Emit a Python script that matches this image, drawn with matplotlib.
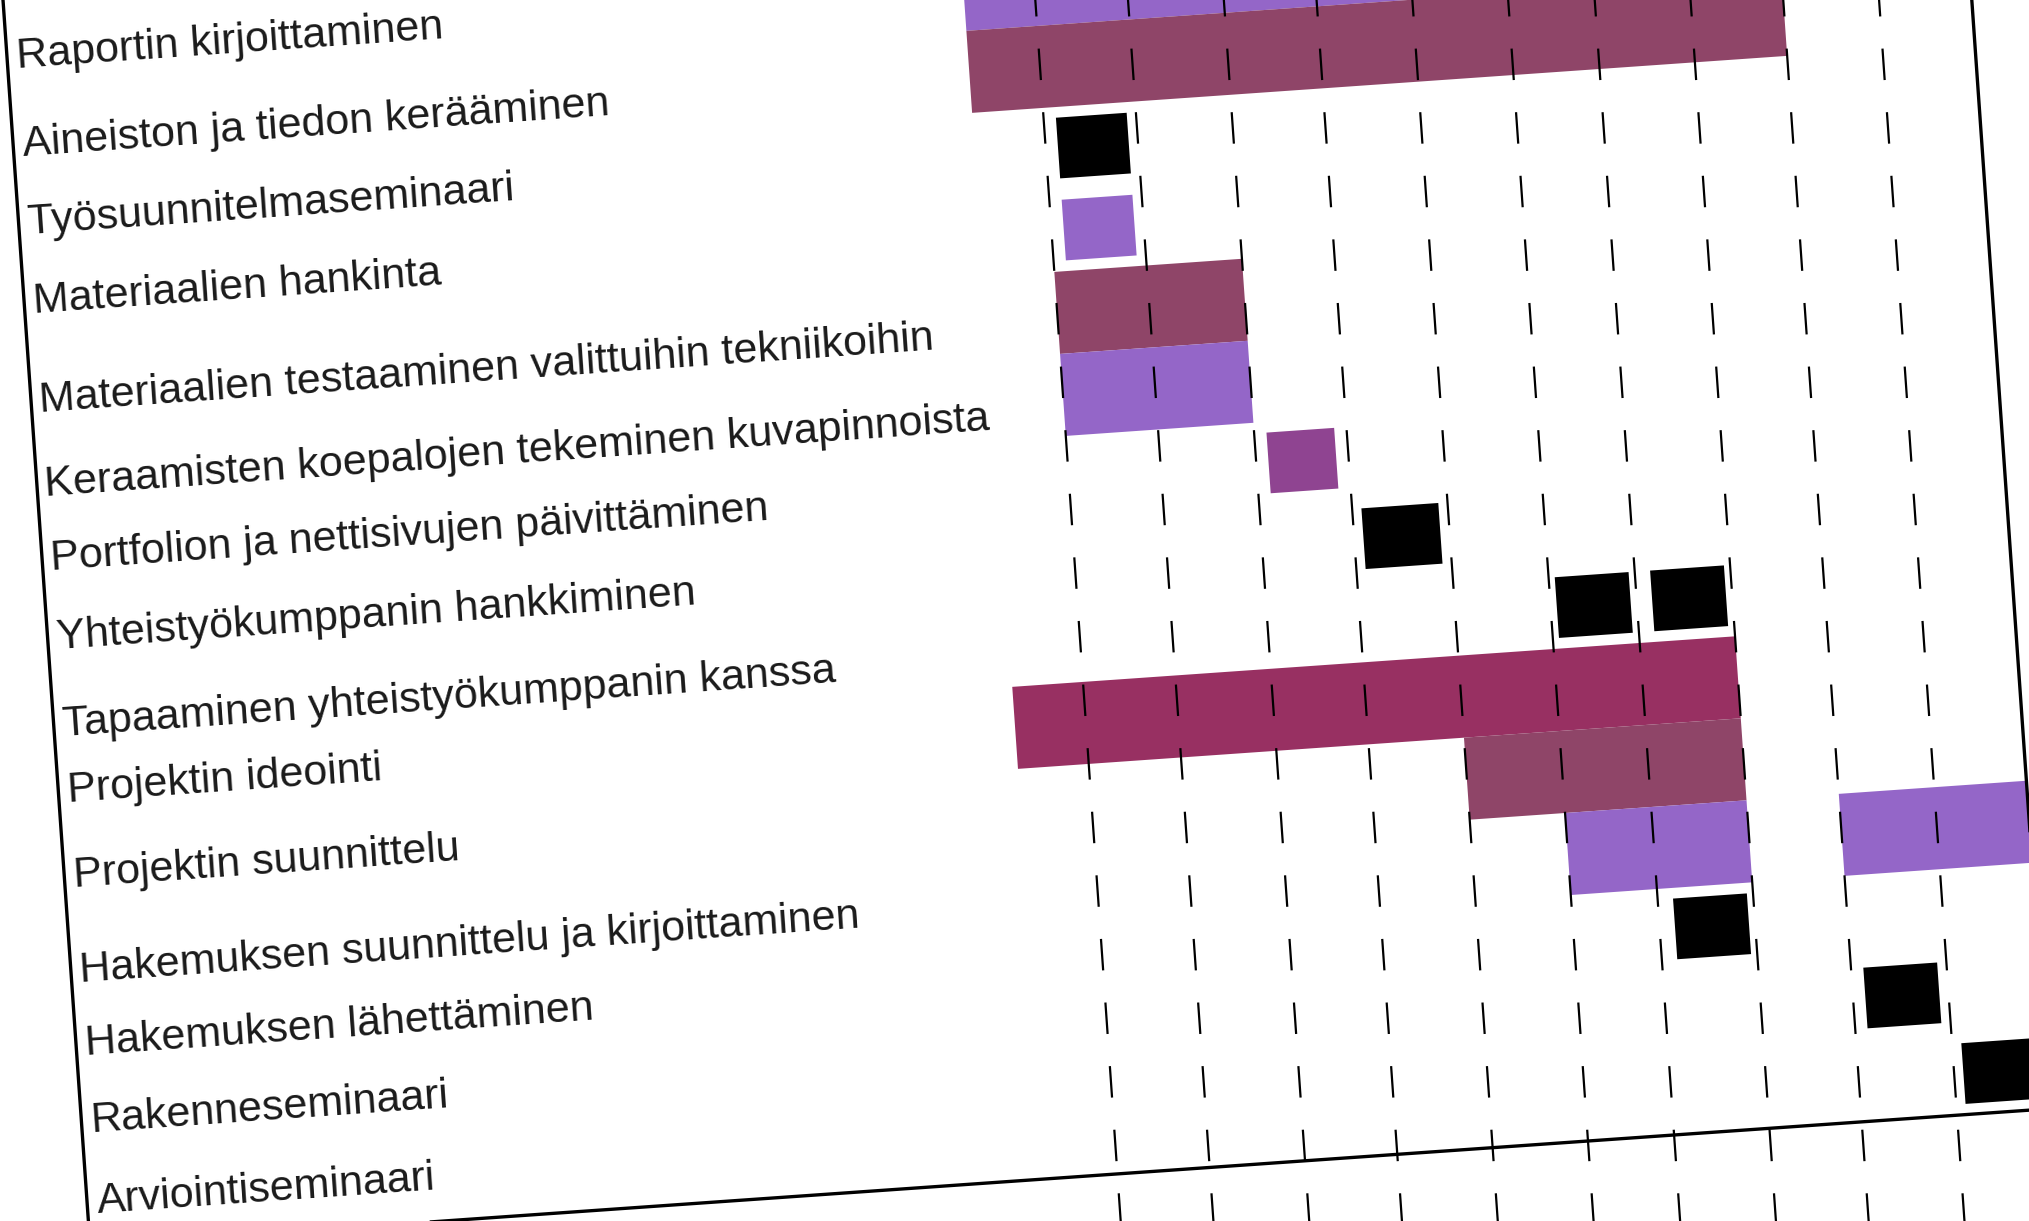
import numpy as np
import matplotlib
matplotlib.use('Agg')
import matplotlib.pyplot as plt
import matplotlib.dates as mdates
from matplotlib.transforms import Affine2D, blended_transform_factory

plt.rcParams['lines.scale_dashes'] = False

W, H = 2029, 1221
ANGLE = 4.0  # koko kaavio on kallistettu

# Tehtävät (rivit ylhäältä alas)
tasks = [
    "Raportin kirjoittaminen",
    "Aineiston ja tiedon kerääminen",
    "Työsuunnitelmaseminaari",
    "Materiaalien hankinta",
    "Materiaalien testaaminen valittuihin tekniikoihin",
    "Keraamisten koepalojen tekeminen kuvapinnoista",
    "Portfolion ja nettisivujen päivittäminen",
    "Yhteistyökumppanin hankkiminen",
    "Tapaaminen yhteistyökumppanin kanssa",
    "Projektin ideointi",
    "Projektin suunnittelu",
    "Hakemuksen suunnittelu ja kirjoittaminen",
    "Hakemuksen lähettäminen",
    "Rakenneseminaari",
    "Arviointiseminaari",
]

# Palkit: rivi, alku, loppu, ryhmä, tyyppi
bar_row = [0, 1, 2, 3, 4, 5, 6, 7, 8, 8, 9, 10, 11, 11, 12, 13, 14]
bar_start = ['2022-08-09', '2022-08-09', '2022-09-05', '2022-09-05', '2022-09-01',
             '2022-09-01', '2022-11-05', '2022-12-04', '2023-02-03', '2023-03-06',
             '2022-08-09', '2023-01-01', '2023-02-01', '2023-05-01', '2023-03-06',
             '2023-05-05', '2023-06-04']
bar_end = ['2023-06-01', '2023-05-01', '2022-09-28', '2022-09-28', '2022-11-01',
           '2022-11-01', '2022-11-27', '2022-12-29', '2023-02-27', '2023-03-30',
           '2023-04-01', '2023-04-01', '2023-04-01', '2023-07-01', '2023-03-30',
           '2023-05-29', '2023-06-28']
bar_group = ['violetti', 'luumu', 'tapahtuma', 'violetti', 'luumu',
             'violetti', 'magenta', 'tapahtuma', 'tapahtuma', 'tapahtuma',
             'karmiini', 'luumu', 'violetti', 'violetti', 'tapahtuma',
             'tapahtuma', 'tapahtuma']
bar_kind = ['vaihe', 'vaihe', 'lyhyt', 'lyhyt', 'vaihe',
            'vaihe', 'lyhyt', 'lyhyt', 'lyhyt', 'lyhyt',
            'vaihe', 'vaihe', 'vaihe', 'vaihe', 'lyhyt',
            'lyhyt', 'lyhyt']

# Kuukausien rajat (katkoviivat)
month_lines = ['2022-09-01', '2022-10-01', '2022-11-01', '2022-12-01', '2023-01-01',
               '2023-02-01', '2023-03-01', '2023-04-01', '2023-05-01', '2023-06-01']

x_range = ['2021-10-02', '2023-07-01']

group_colors = {
    'violetti': '#9466c8',
    'luumu': '#8f4568',
    'karmiini': '#983062',
    'magenta': '#8f4491',
    'tapahtuma': '#000000',
}
kind_height = {'vaihe': 1.0, 'lyhyt': 0.74}


def dnum(s):
    return mdates.date2num(np.datetime64(s))


fig = plt.figure(figsize=(W / 100, H / 100), dpi=100)
fig.patch.set_facecolor('white')

# kaavion akselit ennen kallistusta (pikseleinä)
ax = fig.add_axes([3 / W, -28 / H, 1964 / W, 1438.5 / H])
ax.set_xlim(dnum(x_range[0]), dnum(x_range[1]))
ax.set_ylim(14.5, -3.0)
ax.axis('off')

rot = Affine2D().rotate_deg_around(0, H, ANGLE)
tdata = ax.transData + rot

starts = np.array([dnum(s) for s in bar_start])
ends = np.array([dnum(s) for s in bar_end])
bars = ax.barh(bar_row, ends - starts, left=starts,
               height=[kind_height[k] for k in bar_kind],
               color=[group_colors[g] for g in bar_group], linewidth=0, zorder=2)
for p in bars:
    p.set_transform(tdata)
    p.set_clip_on(False)

for m in month_lines:
    mx = dnum(m)
    ax.plot([mx, mx], [-3.0, 17.0], transform=tdata, color='black', lw=1.6,
            linestyle=(10.1, (22.7, 23.2)), clip_on=False, zorder=3)

frame = plt.Rectangle((0, 0), 1, 1, transform=ax.transAxes + rot, fill=False,
                      lw=2.4, edgecolor='black', clip_on=False, zorder=4)
ax.add_patch(frame)

tlbl = blended_transform_factory(ax.transAxes, ax.transData) + rot
for i, t in enumerate(tasks):
    ax.text(0.0046, i - 0.17, t, transform=tlbl, transform_rotates_text=True,
            ha='left', va='center', fontsize=31, color='#1a1a1a',
            family=['Liberation Sans Narrow', 'Liberation Sans', 'DejaVu Sans'], zorder=5)

fig.savefig('out.png', dpi=100, facecolor='white')
